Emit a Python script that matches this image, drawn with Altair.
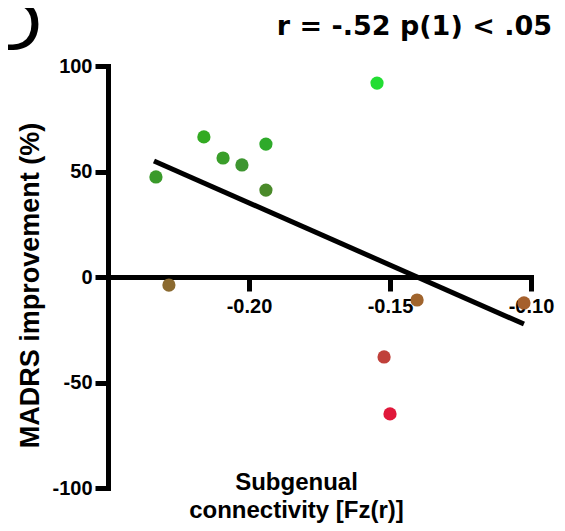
import altair as alt
import pandas as pd

# Subject values
connectivity = [-0.1546, -0.2160, -0.1940, -0.2092, -0.2025, -0.2330, -0.1940,
                -0.2284, -0.1404, -0.1025, -0.1521, -0.1500]
madrs_improvement = [91.9, 66.4, 63.0, 56.4, 53.1, 47.4, 41.2,
                     -3.8, -10.9, -12.3, -37.9, -64.9]
point_colors = ["#22dd33", "#33aa22", "#2eaa2a", "#3a9e2a", "#3d9530", "#3a9a2a",
                "#4a8a2a", "#8b6a30", "#a0642d", "#a5602d", "#c0403a", "#e0183a"]

# Regression line endpoints
fit_x = [-0.2337, -0.1025]
fit_y = [55.0, -22.3]

x_ticks = [-0.20, -0.15, -0.10]
y_ticks = [-100, -50, 0, 50, 100]

pts = pd.DataFrame({"x": connectivity, "y": madrs_improvement, "c": point_colors})
fit = pd.DataFrame({"x": fit_x, "y": fit_y})

FONT = "Liberation Sans"

x_scale = alt.Scale(domain=[-0.25, -0.10], nice=False, zero=False)
y_scale = alt.Scale(domain=[-100, 100], nice=False, zero=False)

x_axis = alt.Axis(
    values=x_ticks,
    offset=-211,
    title=["Subgenual", "connectivity [Fz(r)]"],
    titleX=188, titleY=212, titleAlign="center", titleBaseline="alphabetic",
    titleLineHeight=28, titleFont=FONT, titleFontSize=24, titleFontWeight="bold",
    titleColor="black",
    labelExpr="(datum.value < 0 ? '-' : '') + format(abs(datum.value), '.2f')",
    labelFont=FONT, labelFontSize=20, labelFontWeight="bold", labelColor="black",
    labelPadding=5, labelFlush=False, labelOverlap=False,
    domainColor="black", domainWidth=5, domainCap="square",
    tickColor="black", tickWidth=5, tickSize=14, grid=False,
)
y_axis = alt.Axis(
    values=y_ticks,
    title="MADRS improvement (%)",
    titleX=-78, titleY=219, titleAlign="center", titleBaseline="middle",
    titleFont=FONT, titleFontSize=27, titleFontWeight="bold", titleColor="black",
    labelExpr="(datum.value < 0 ? '-' : '') + abs(datum.value)",
    labelFont=FONT, labelFontSize=20, labelFontWeight="bold", labelColor="black",
    labelPadding=3, labelOverlap=False,
    domainColor="black", domainWidth=5, domainCap="square",
    tickColor="black", tickWidth=5, tickSize=13, grid=False,
)

line = alt.Chart(fit).mark_line(color="black", strokeWidth=5).encode(
    x=alt.X("x:Q", scale=x_scale, axis=x_axis),
    y=alt.Y("y:Q", scale=y_scale, axis=y_axis),
)

points = alt.Chart(pts).mark_circle(size=175, opacity=1).encode(
    x=alt.X("x:Q", scale=x_scale),
    y=alt.Y("y:Q", scale=y_scale),
    color=alt.Color("c:N", scale=None),
)

panel_letter = alt.Chart(alt.Data(values=[{}])).mark_text(
    text="D", font=FONT, fontSize=74, align="right", baseline="alphabetic",
    color="black",
).encode(x=alt.value(-66), y=alt.value(-16))

stat_title = alt.Chart(alt.Data(values=[{}])).mark_text(
    text="r = -.52 p(1) < .05", font="DejaVu Sans", fontSize=27, fontWeight="bold",
    align="right", baseline="alphabetic", color="black",
).encode(x=alt.value(444), y=alt.value(-31))

chart = alt.layer(line, points, panel_letter, stat_title).properties(
    width=423, height=422,
    autosize=alt.AutoSizeParams(type="none"),
    padding={"left": 100, "top": 58, "right": 26, "bottom": 35},
).configure_view(stroke=None)

chart.save("out.html", embed_options={"renderer": "svg", "actions": False})
